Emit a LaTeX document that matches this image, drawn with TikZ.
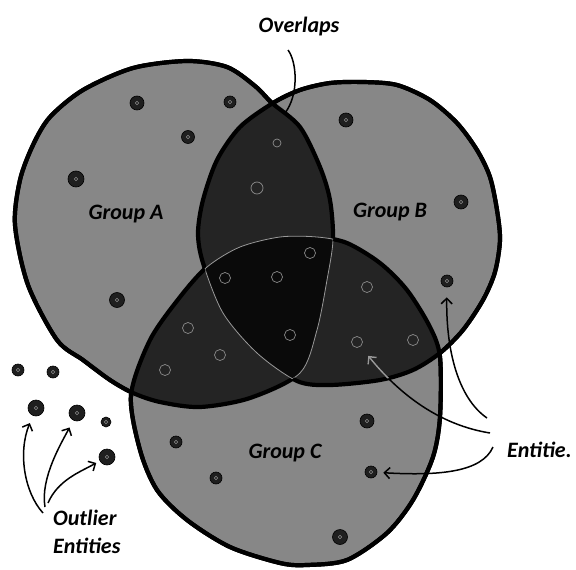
\documentclass[tikz,border=0pt]{standalone}
\usepackage{fontspec}
\setmainfont{Carlito}
\usetikzlibrary{arrows.meta}
\tikzset{even odd clip/.code={\pgfseteorule}}
\newcommand{\shA}{plot[smooth cycle] coordinates {(15,225) (20,180) (33,145) (50,117) (83,90) (133,68) (187,61) (227,67) (255,86) (272,103) (300,127) (320,167) (330,200) (333,240) (327,280) (317,330) (300,373) (250,398) (200,407) (160,402) (133,393) (110,380) (83,360) (57,340) (28,285)}}
\newcommand{\shB}{plot[smooth cycle] coordinates {(273,103) (300,90) (330,83) (363,82) (397,85) (430,100) (457,123) (477,150) (490,177) (497,210) (500,240) (495,272) (483,300) (463,330) (440,353) (413,370) (380,380) (330,385) (297,381) (257,353) (223,313) (203,263) (198,233) (203,200) (217,160) (240,127)}}
\newcommand{\shC}{plot[smooth cycle] coordinates {(131,395) (140,450) (157,490) (187,520) (230,547) (280,563) (307,565) (347,560) (387,533) (413,500) (433,457) (440,417) (440,357) (430,327) (407,290) (380,263) (347,243) (317,237) (280,237) (240,247) (207,267) (180,297) (150,340)}}
\begin{document}
\begin{tikzpicture}[x=1pt,y=-1pt,
  single/.style={fill=black!47},
  double/.style={fill=black!86},
  triple/.style={fill=black!96},
  outline/.style={draw=black,line width=4.2pt},
  inner/.style={draw=black!40,line width=0.8pt},
  ent/.style={circle,fill=black!88,draw=black,line width=0.6pt,inner sep=0pt,minimum size=#1,
    path picture={\draw[black!45,line width=0.6pt] (path picture bounding box.center) circle (1.8pt);}},
  ent/.default=13pt,
  ghost/.style={circle,draw=black!45,line width=0.7pt,inner sep=0pt,minimum size=#1},
  ghost/.default=11pt,
  lbl/.style={font=\fontsize{22}{24}\selectfont\bfseries\itshape,inner sep=0pt,anchor=base},
  conn/.style={line width=1.5pt},
  arr/.style={conn,-{Straight Barb[length=5.5pt,width=11pt,line width=1.5pt]}}]
\useasboundingbox[fill=white] (0,0) rectangle (576,570);
% fills
\fill[single] \shA; \fill[single] \shB; \fill[single] \shC;
\begin{scope}\clip \shA; \fill[double] \shB; \fill[double] \shC; \end{scope}
\begin{scope}\clip \shB; \fill[double] \shC; \end{scope}
\begin{scope}\clip \shA; \clip \shB; \fill[triple] \shC; \end{scope}
% outlines A
\begin{scope}\clip[even odd clip] (-50,-50) rectangle (650,650) \shB; \draw[outline] \shA; \end{scope}
\begin{scope}\clip[even odd clip] (-50,-50) rectangle (650,650) \shC; \draw[outline] \shA; \end{scope}
\begin{scope}\clip \shB; \clip \shC; \draw[inner] \shA; \end{scope}
% outlines B
\begin{scope}\clip[even odd clip] (-50,-50) rectangle (650,650) \shA; \draw[outline] \shB; \end{scope}
\begin{scope}\clip[even odd clip] (-50,-50) rectangle (650,650) \shC; \draw[outline] \shB; \end{scope}
\begin{scope}\clip \shA; \clip \shC; \draw[inner] \shB; \end{scope}
% outlines C
\begin{scope}\clip[even odd clip] (-50,-50) rectangle (650,650) \shA; \draw[outline] \shC; \end{scope}
\begin{scope}\clip[even odd clip] (-50,-50) rectangle (650,650) \shB; \draw[outline] \shC; \end{scope}
\begin{scope}\clip \shA; \clip \shB; \draw[inner] \shC; \end{scope}
% entities in single regions
\node[ent=14pt] (a1) at (137,103) {};
\node[ent=12pt] (a2) at (230,102) {};
\node[ent=13pt] (a3) at (188,137) {};
\node[ent=16pt] (a4) at (76,179) {};
\node[ent=15pt] (a5) at (117,300) {};
\node[ent=14pt] (b1) at (346,120) {};
\node[ent=14pt] (b2) at (461,202) {};
\node[ent=12pt] (b3) at (447,281) {};
\node[ent=14pt] (c1) at (367,421) {};
\node[ent=12pt] (c2) at (176,442) {};
\node[ent=12pt] (c3) at (216,478) {};
\node[ent=12pt] (c4) at (371,472) {};
\node[ent=15pt] (c5) at (340,537) {};
% faint entities in overlaps
\node[ghost=12pt] (ab1) at (257,188) {};
\node[ghost=8pt] (ab2) at (277,143) {};
\node[ghost] (abc1) at (310,253) {};
\node[ghost] (abc2) at (277,277) {};
\node[ghost] (abc3) at (225,278) {};
\node[ghost] (abc4) at (290,335) {};
\node[ghost] (bc1) at (367,287) {};
\node[ghost] (bc2) at (357,342) {};
\node[ghost] (bc3) at (413,340) {};
\node[ghost] (ac1) at (188,328) {};
\node[ghost] (ac2) at (220,355) {};
\node[ghost] (ac3) at (165,370) {};
% outliers
\node[ent=12pt] (o1) at (18,370) {};
\node[ent=12pt] (o2) at (53,372) {};
\node[ent=16pt] (o3) at (36,408) {};
\node[ent=16pt] (o4) at (77,413) {};
\node[ent=10pt] (o5) at (106,422) {};
\node[ent=16pt] (o6) at (107,457) {};
% labels
\node[lbl] (ovl) at (299,32) {Overlaps};
\node[lbl] (ga) at (126,219) {Group A};
\node[lbl] (gb) at (390,217) {Group B};
\node[lbl] (gc) at (285,458) {Group C};
\node[lbl,anchor=base west] (out1) at (53,525) {Outlier};
\node[lbl,anchor=base west] (out2) at (53,553) {Entities};
\node[lbl,anchor=base west] (ent) at (507,457) {Entitie.};
% overlaps connector
\coordinate (ov0) at (288,50);
\coordinate (ov1) at (285,113);
\draw[conn] (ov0) .. controls (297,62) and (299,95) .. (ov1);
% outlier arrows
\coordinate (oa1) at (43,513);
\coordinate (oa2) at (45,507);
\coordinate (oa3) at (48,503);
\draw[arr,shorten >=8pt] (oa1) .. controls (24,492) and (18,452) .. (o3);
\draw[arr,shorten >=8pt] (oa2) .. controls (40,478) and (62,442) .. (o4);
\draw[arr,shorten >=4pt] (oa3) .. controls (58,480) and (80,472) .. (o6);
% entities arrows
\coordinate (ea1) at (487,418);
\coordinate (ea2) at (490,433);
\coordinate (ea3) at (493,447);
\draw[arr,shorten >=10pt] (ea1) .. controls (458,398) and (446,350) .. (b3);
\draw[arr,shorten >=12pt] (ea2) .. controls (440,425) and (400,395) .. (bc2);
\begin{scope}\clip \shB; \clip \shC;
\draw[arr,shorten >=12pt,draw=black!40] (ea2) .. controls (440,425) and (400,395) .. (bc2);
\end{scope}
\draw[arr,shorten >=6pt] (ea3) .. controls (482,472) and (440,476) .. (c4);
\end{tikzpicture}
\end{document}
